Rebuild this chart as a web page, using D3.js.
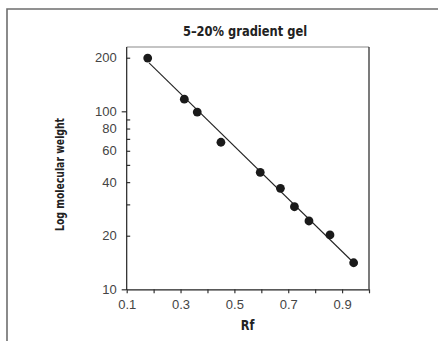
<!DOCTYPE html>
<html><head><meta charset="utf-8">
<script src="https://cdn.jsdelivr.net/npm/d3@7"></script>
<style>
body{margin:0;background:#fff;}
svg{display:block;}
</style></head>
<body>
<svg id="c" width="438" height="341"></svg>
<script>
// Data
const rf = [0.178, 0.314, 0.362, 0.450, 0.596, 0.671, 0.723, 0.777, 0.855, 0.943];
const molWeight = [199, 117, 99, 67, 45.4, 36.9, 29.1, 24.2, 20.2, 14.1];
// fitted line endpoints
const fitRf = [0.183, 0.943];
const fitMW = [187, 14.1];
const xTicks = [0.1, 0.2, 0.3, 0.4, 0.5, 0.6, 0.7, 0.8, 0.9, 1.0];
const xTickLabels = ["0.1", "0.3", "0.5", "0.7", "0.9"];
const yTickLabels = [10, 20, 40, 60, 80, 100, 200];
const yMajorTicks = [10, 100];
const yMinorTicks = [20, 30, 40, 50, 60, 70, 80, 90, 200];
const title = "5\u201320% gradient gel";
const xTitle = "Rf";
const yTitle = "Log molecular weight";

const svg = d3.select("#c");
const condBold = "'DejaVu Sans Condensed', 'DejaVu Sans', sans-serif";
const reg = "'Liberation Sans', Arial, sans-serif";

// outer frame (cropped box)
svg.append("path").attr("d", "M7,341V9H438").attr("fill", "none")
  .attr("stroke", "#6e6e6e").attr("stroke-width", 1.6);

const x = d3.scaleLinear().domain([0.1, 1.0]).range([126.7, 369]);
const y = d3.scaleLog().domain([10, 100]).range([289.3, 111.3]);
const plotTop = 47;

// plot frame top and right
svg.append("line").attr("x1", x(0.1)).attr("x2", x(1.0)).attr("y1", plotTop).attr("y2", plotTop)
  .attr("stroke", "#8a8a8a").attr("stroke-width", 1.2);
svg.append("line").attr("x1", x(1.0)).attr("x2", x(1.0)).attr("y1", plotTop).attr("y2", y(10))
  .attr("stroke", "#222").attr("stroke-width", 1.2);

// x axis
const xa = svg.append("g").attr("transform", `translate(0,${y(10)})`)
  .call(d3.axisBottom(x).tickValues(xTicks).tickSizeInner(4).tickSizeOuter(0).tickPadding(6)
    .tickFormat(d => { const s = d3.format(".1f")(d); return xTickLabels.includes(s) ? s : ""; }));
xa.select(".domain").attr("stroke", "#222").attr("stroke-width", 1.2);
xa.selectAll(".tick line").attr("stroke", "#333").attr("stroke-width", 1.2);
xa.selectAll("text").attr("font-family", reg).attr("font-size", 13).attr("fill", "#444");

// y axis: labels
const ya = svg.append("g").attr("transform", `translate(${x(0.1)},0)`)
  .call(d3.axisLeft(y).tickValues(yTickLabels).tickSizeInner(0).tickSizeOuter(0).tickPadding(10)
    .tickFormat(d3.format("d")));
ya.select(".domain").remove();
ya.selectAll("text").attr("font-family", reg).attr("font-size", 13).attr("fill", "#444");

// y major ticks (outward) and minor ticks (inward)
const yMaj = svg.append("g").attr("transform", `translate(${x(0.1)},0)`)
  .call(d3.axisLeft(y).tickValues(yMajorTicks).tickSizeInner(5).tickSizeOuter(0).tickFormat(""));
yMaj.select(".domain").remove();
yMaj.selectAll(".tick line").attr("stroke", "#333").attr("stroke-width", 1.2);
const yMin = svg.append("g").attr("transform", `translate(${x(0.1)},0)`)
  .call(d3.axisLeft(y).tickValues(yMinorTicks).tickSizeInner(-3.5).tickSizeOuter(0).tickFormat(""));
yMin.select(".domain").remove();
yMin.selectAll(".tick line").attr("stroke", "#333").attr("stroke-width", 1.2);

// y axis line
svg.append("line").attr("x1", x(0.1)).attr("x2", x(0.1)).attr("y1", plotTop).attr("y2", y(10) + 0.6)
  .attr("stroke", "#222").attr("stroke-width", 1.2);

// fitted line
svg.append("path").datum(fitRf.map((r, i) => [r, fitMW[i]]))
  .attr("d", d3.line().x(d => x(d[0])).y(d => y(d[1])))
  .attr("fill", "none").attr("stroke", "#222").attr("stroke-width", 1.1);

// points
svg.append("g").selectAll("circle").data(rf.map((r, i) => [r, molWeight[i]])).join("circle")
  .attr("cx", d => x(d[0])).attr("cy", d => y(d[1])).attr("r", 4.4).attr("fill", "#1a1a1a");

// titles
svg.append("text").attr("transform", "translate(245,35.7) scale(0.88,1)").attr("text-anchor", "middle")
  .attr("font-family", condBold).attr("font-weight", "bold").attr("font-size", 14.5).attr("fill", "#222")
  .text(title);
svg.append("text").attr("transform", "translate(247.5,329.5) scale(0.9,1)").attr("text-anchor", "middle")
  .attr("font-family", condBold).attr("font-weight", "bold").attr("font-size", 14).attr("fill", "#222")
  .text(xTitle);
svg.append("text").attr("transform", "translate(64,174.5) rotate(-90) scale(0.9,1)").attr("text-anchor", "middle")
  .attr("font-family", condBold).attr("font-weight", "bold").attr("font-size", 11.5).attr("fill", "#222")
  .text(yTitle);
</script>
</body></html>
